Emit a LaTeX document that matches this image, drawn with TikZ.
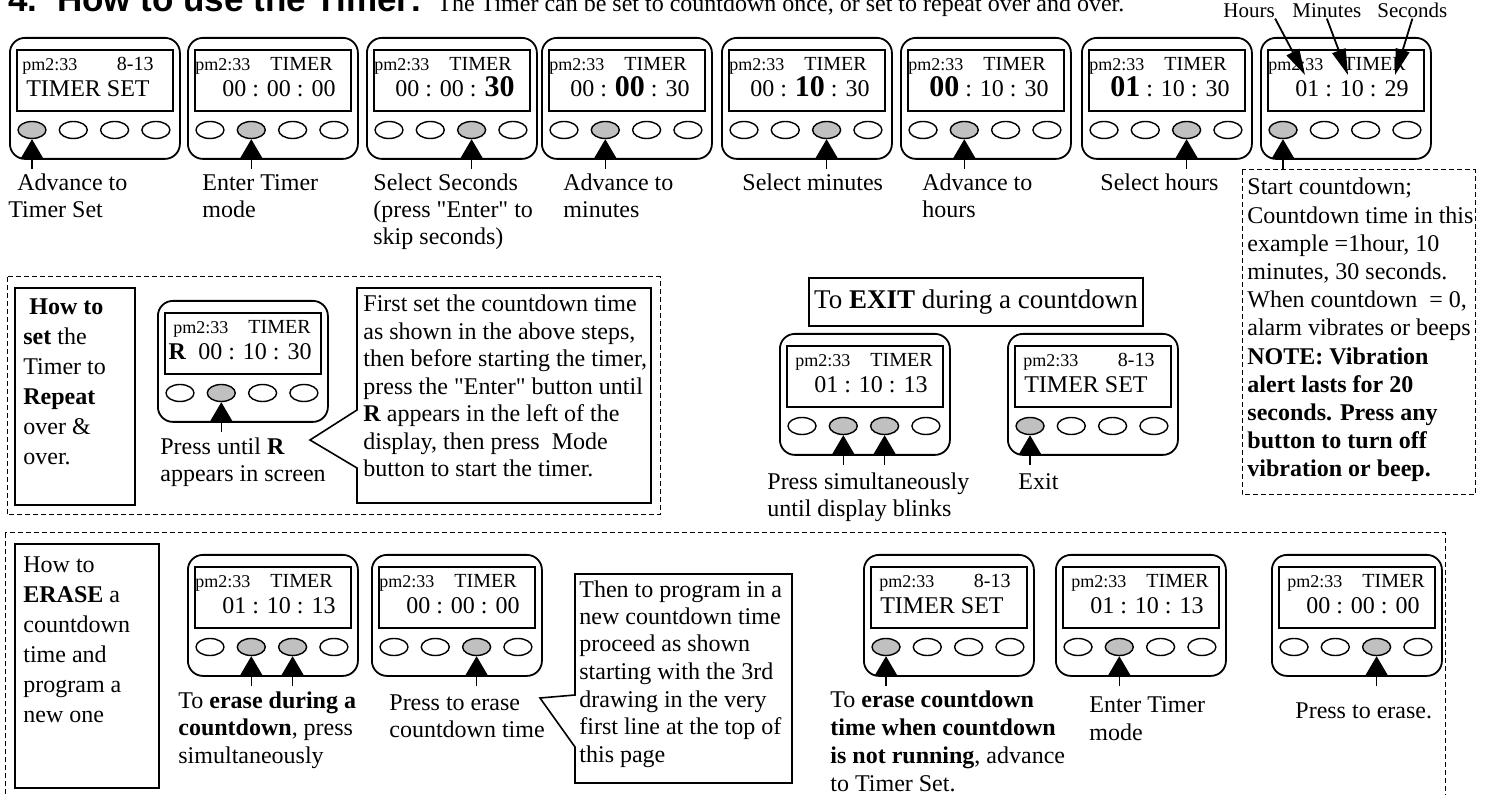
\documentclass[tikz,border=0pt]{standalone}
\usepackage{fontspec}
\setmainfont{Liberation Serif}[Ligatures=TeXOff]
\newfontfamily\headfont{Liberation Sans}
\usetikzlibrary{shapes.geometric, arrows.meta, calc}
\definecolor{btngray}{RGB}{192,192,192}
\newcommand{\bigdig}[1]{{\fontsize{15}{15}\selectfont\bfseries #1}}
\tikzset{
  watchcase/.style={rectangle, rounded corners=7.5pt, draw=black, line width=0.9pt, minimum width=85pt, minimum height=60.5pt, anchor=north west, inner sep=0pt},
  lcd/.style={rectangle, draw=black, line width=0.8pt, minimum width=78pt, minimum height=30.5pt, anchor=north west, inner sep=0pt},
  clocktxt/.style={anchor=base west, inner sep=0pt, font=\fontsize{9}{10}\selectfont},
  modetxt/.style={anchor=base east, inner sep=0pt, font=\fontsize{10}{11}\selectfont},
  readout/.style={anchor=base east, inner sep=0pt, font=\fontsize{12}{13}\selectfont},
  btn/.style={ellipse, draw=black, line width=0.7pt, minimum width=14pt, minimum height=8.5pt, inner sep=0pt},
  press/.style={-{Triangle[length=9.5pt,width=11pt]}, line width=0.6pt},
  hintarrow/.style={-{Triangle[length=13pt,width=7pt]}, line width=0.9pt},
  lbl/.style={anchor=base west, align=left, inner sep=0pt, font=\fontsize{12}{13.5}\selectfont},
  unitlbl/.style={anchor=base west, inner sep=0pt, font=\fontsize{10.5}{12}\selectfont},
  heading/.style={anchor=base west, inner sep=0pt, font=\headfont\bfseries\fontsize{17.5}{20}\selectfont},
  dashbox/.style={draw=black, line width=0.5pt, dash pattern=on 2.5pt off 1.5pt},
  heavybox/.style={draw=black, line width=1.2pt},
  balloon/.style={draw=black, line width=0.8pt, line join=miter},
  exitbox/.style={rectangle, draw=black, line width=0.8pt, minimum width=167pt, minimum height=24pt, inner sep=0pt, font=\fontsize{13.5}{15}\selectfont},
}
% one timer: [shift of top line]{name}{x}{y}{mode text}{readout}{pressed buttons}
\newcommand{\watchunit}[7][8]{%
  \node[watchcase] (#2) at (#3,#4) {};
  \node[lcd] (#2-scr) at ($(#2.north west)+(7,12)$) {};
  \node[clocktxt] at ($(#2.north west)+(#1,34)$) {pm2:33};
  \node[modetxt] at ($(#2.north west)+(#1+138,34)$) {#5};
  \node[readout] at ($(#2.north west)+(149,60)$) {#6};
  \foreach \b in {1,...,4}{
    \xdef\btnfill{white}
    \foreach \p in {#7}{\ifnum\p=\b\relax\xdef\btnfill{btngray}\fi}
    \node[btn, fill=\btnfill] (#2-b\b) at ($(#2.north west)+({23+41.3*(\b-1)},93)$) {};
  }
  \foreach \p in {#7}{
    \coordinate (#2-f\p) at ($(#2-b\p.south)+(0,30)$);
    \draw[press] (#2-f\p) -- (#2-b\p.south);
  }
}

\begin{document}
\begin{tikzpicture}[x=0.5pt, y=-0.5pt]
\useasboundingbox (0,0) rectangle (1487,795);

% title line
\node[heading] (title) at (8,12) {4.\ \ How to use the Timer:};
\node[lbl] (intro) at (437,12) {The Timer can be set to countdown once, or set to repeat over and over.};

% first row: the steps (labels sit on their last line)
\watchunit[13]{w1}{9}{37}{8-13\kern3pt}{TIMER SET\kern4pt}{1}
\watchunit{w2}{187}{37}{TIMER}{00 : 00 : 00}{2}
\watchunit{w3}{366}{37}{TIMER}{00 : 00 : \bigdig{30}}{3}
\watchunit{w4}{541}{37}{TIMER}{00 : \bigdig{00} : 30}{2}
\watchunit{w5}{721}{37}{TIMER}{00 : \bigdig{10} : 30}{3}
\watchunit{w6}{900}{37}{TIMER}{\bigdig{00} : 10 : 30}{2}
\watchunit{w7}{1081}{37}{TIMER}{\bigdig{01} : 10 : 30}{3}
\watchunit{w8}{1260}{37}{TIMER}{01 : 10 : 29}{1}

\node[lbl] (s1) at (8,218) {\hspace*{4.5pt}Advance to\\Timer Set};
\node[lbl] (s2) at (202,218) {Enter Timer\\mode};
\node[lbl] (s3) at (373,245) {Select Seconds\\(press "Enter" to\\skip seconds)};
\node[lbl] (s4) at (563,218) {Advance to\\minutes};
\node[lbl] (s5) at (742,191) {Select minutes};
\node[lbl] (s6) at (922,218) {Advance to\\hours};
\node[lbl] (s7) at (1100,191) {Select hours};

% hours / minutes / seconds
\node[unitlbl] (hrs) at (1223,18) {Hours};
\node[unitlbl] (mins) at (1292,18) {Minutes};
\node[unitlbl] (secs) at (1377,18) {Seconds};
\coordinate (hrtip) at (1305,75);
\coordinate (mintip) at (1348,75);
\coordinate (sectip) at (1395,75);
\draw[hintarrow] (hrs.south east) -- (hrtip);
\draw[hintarrow] (mins.south) -- (mintip);
\draw[hintarrow] (secs.south) -- (sectip);

% start countdown note
\draw[dashbox] (1242,170) rectangle (1475,495);
\node[lbl, font=\fontsize{12}{14.1}\selectfont] (start) at (1247,477) {Start countdown;\\Countdown time in this\\example =1hour, 10\\minutes, 30 seconds.\\When countdown~ = 0,\\alarm vibrates or beeps\\\textbf{NOTE: Vibration}\\\textbf{alert lasts for 20}\\\textbf{seconds. Press any}\\\textbf{button to turn off}\\\textbf{vibration or beep.}};

% repeat
\draw[dashbox] (7,277) rectangle (660,515);
\draw[heavybox] (15,288) rectangle (135,505);
\node[lbl, font=\fontsize{12}{15}\selectfont] (rpthead) at (23,465) {\hspace*{3pt}\textbf{How to}\\\textbf{set} the\\Timer to\\\textbf{Repeat}\\over \&\\over.};
\watchunit[16]{rpt}{157}{300}{TIMER}{\textbf{R}\ \ 00 : 10 : 30\kern-3pt}{2}
\node[lbl] (rptlbl) at (160,482) {Press until \textbf{R}\\appears in screen};
\draw[balloon] (357,288) -- (651,288) -- (651,503) -- (357,503) -- (357,468) -- (310,440) -- (357,410) -- cycle;
\node[lbl, font=\fontsize{12}{13.75}\selectfont] (rptnote) at (363,477) {First set the countdown time\\as shown in the above steps,\\then before starting the timer,\\press the "Enter" button until\\\textbf{R} appears in the left of the\\display, then press~ Mode\\button to start the timer.};

% exit
\node[exitbox] (exit) at (976,302) {To \textbf{EXIT} during a countdown};
\watchunit[16]{ex1}{779}{333}{TIMER}{01 : 10 : 13}{2,3}
\watchunit[16]{ex2}{1007}{333}{8-13\kern3pt}{TIMER SET\kern4pt}{1}
\node[lbl] (ex1lbl) at (767,517) {Press simultaneously\\until display blinks};
\node[lbl] (ex2lbl) at (1018,490) {Exit};

% erase
\draw[dashbox] (5,533) rectangle (1445,810);
\draw[heavybox] (15,544) rectangle (159,788);
\node[lbl, font=\fontsize{12}{15}\selectfont] (erhead) at (23,722) {How to\\\textbf{ERASE} a\\countdown\\time and\\program a\\new one};
\watchunit{er1}{187}{554}{TIMER}{01 : 10 : 13}{2,3}
\watchunit{er2}{371}{554}{TIMER}{00 : 00 : 00}{3}
\watchunit[16]{er3}{863}{554}{8-13\kern3pt}{TIMER SET\kern4pt}{1}
\watchunit[16]{er4}{1055}{554}{TIMER}{01 : 10 : 13}{2}
\watchunit[16]{er5}{1271}{554}{TIMER}{00 : 00 : 00}{3}
\node[lbl, font=\fontsize{12}{13.75}\selectfont] (er1lbl) at (178,763) {To \textbf{erase during a}\\\textbf{countdown}, press\\simultaneously};
\node[lbl] (er2lbl) at (389,737) {Press to erase\\countdown time};
\draw[balloon] (575,574) -- (792,574) -- (792,783) -- (575,783) -- (575,747) -- (540,698) -- (575,695) -- cycle;
\node[lbl, font=\fontsize{12}{13.75}\selectfont] (ernote) at (579,762) {Then to program in a\\new countdown time\\proceed as shown\\starting with the 3rd\\drawing in the very\\first line at the top of\\this page};
\node[lbl, font=\fontsize{12}{13.85}\selectfont] (er3lbl) at (830,791) {To \textbf{erase countdown}\\\textbf{time when countdown}\\\textbf{is not running}, advance\\to Timer Set.};
\node[lbl, font=\fontsize{12}{14}\selectfont] (er4lbl) at (1089,740) {Enter Timer\\mode};
\node[lbl] (er5lbl) at (1295,718) {Press to erase.};
\end{tikzpicture}
\end{document}
